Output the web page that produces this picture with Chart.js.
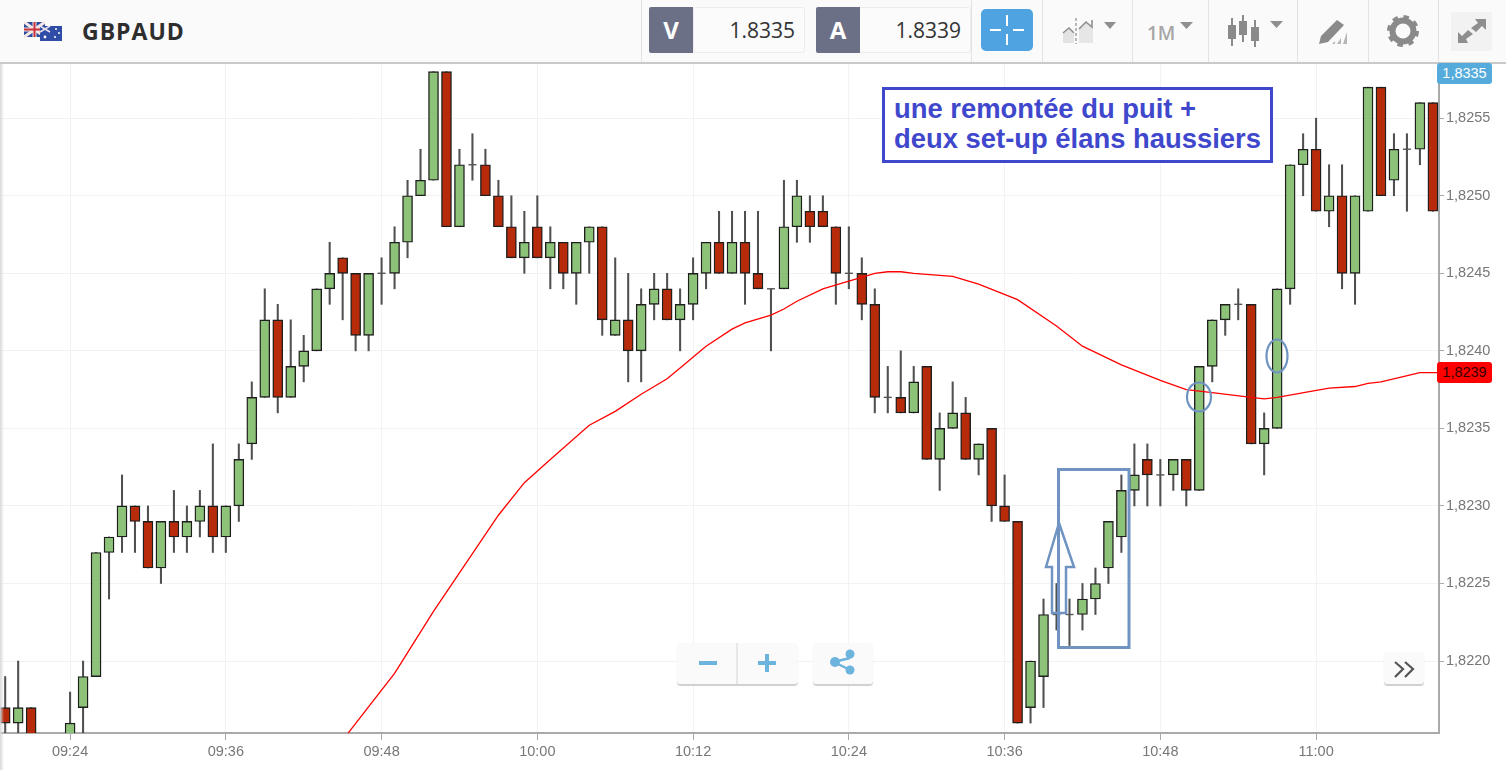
<!DOCTYPE html>
<html>
<head>
<meta charset="utf-8">
<title>GBPAUD</title>
<script src="https://cdn.jsdelivr.net/npm/chart.js@4"></script>
<style>
    html, body { margin: 0; padding: 0; background: #fff; overflow: hidden; }
    #wrap { position: relative; width: 1506px; height: 770px; overflow: hidden; font-family: "Open Sans", sans-serif; }
    #chart { position: absolute; left: 0; top: 0; }
    #header { position: absolute; left: 0; top: 0; width: 1506px; height: 62px; background: #fafafa; border-bottom: 2px solid #c9c9c9; box-sizing: content-box; }
    #leftShade { position: absolute; left: 0; top: 0; width: 4px; height: 770px; background: linear-gradient(to right, #d8d8d8, rgba(255,255,255,0)); }
    .abs { position: absolute; }
    .symbol { left: 82px; top: 15px; font-size: 23px; font-weight: 700; color: #2e2e2e; letter-spacing: 1px; }
    .tile { top: 7px; width: 44px; height: 46px; background: #6b7086; color: #fff; font-size: 24px; font-weight: 700; line-height: 46px; text-align: center; border-radius: 2px 0 0 2px; }
    .quote { top: 7px; width: 112px; height: 46px; box-sizing: border-box; background: #fbfbfb; border: 1px solid #ececec; border-radius: 3px; font-size: 21px; line-height: 44px; text-align: right; padding-right: 9px; color: #333; }
    .divider { top: 0; width: 1px; height: 62px; background: #e3e3e3; }
    .period { left: 1147px; top: 20px; font-size: 19px; font-weight: 600; color: #a6a6a6; }
    .tag { left: 1437px; width: 55px; height: 21px; border-radius: 3px; font: 14.5px "Liberation Sans", Arial, sans-serif; line-height: 21px; text-align: center; }
    .note { left: 882px; top: 87px; width: 391px; height: 76px; box-sizing: border-box; border: 3px solid #3f48cc; background: #fff; color: #3f48cc; font: bold 27.4px/30px "Liberation Sans", Arial, sans-serif; padding: 4px 0 0 9px; white-space: nowrap; }
    .btn { background: rgba(250,250,250,.92); border-radius: 4px; box-shadow: 0 2px 1px #cfcfcf; }
</style>
</head>
<body>
<div id="wrap">
    <canvas id="chart" width="1506" height="770"></canvas>

    <div id="leftShade"></div>
    <div id="header">
        <svg class="abs" style="left:20px;top:18px" width="46" height="26">
            <rect x="4" y="4" width="21" height="15" fill="#2b4a9b"/>
            <path d="M4 4L25 19M25 4L4 19" stroke="#f3e6e6" stroke-width="3"/>
            <path d="M14.5 4V19M4 11.5H25" stroke="#f3e6e6" stroke-width="4"/>
            <path d="M14.5 4V19M4 11.5H25" stroke="#c9313a" stroke-width="2"/>
            <rect x="20" y="8" width="22" height="15" fill="#2f4da6"/>
            <path d="M20 8L30 14M30 8L20 14" stroke="#e9e4ea" stroke-width="1.5"/>
            <circle cx="36" cy="11" r="1" fill="#fff"/><circle cx="39" cy="15" r="1" fill="#fff"/>
            <circle cx="35" cy="19" r="1" fill="#fff"/><circle cx="25" cy="19" r="1.4" fill="#fff"/>
        </svg>
        <div class="abs symbol">GBPAUD</div>

        <div class="abs divider" style="left:641px"></div>
        <div class="abs quote" style="left:693px">1.8335</div>
        <div class="abs tile" style="left:649px">V</div>
        <div class="abs quote" style="left:859px">1.8339</div>
        <div class="abs tile" style="left:816px">A</div>
        <div class="abs divider" style="left:971px"></div>

        <div class="abs" style="left:981px;top:9px;width:52px;height:42px;background:#4fa3e0;border-radius:5px"></div>
        <svg class="abs" style="left:981px;top:9px" width="52" height="42">
            <path d="M26 6V17M26 25V36M9 21H20M32 21H43" stroke="#fff" stroke-width="2"/>
        </svg>

        <div class="abs divider" style="left:1042px"></div>
        <svg class="abs" style="left:1060px;top:16px" width="62" height="32">
            <path d="M3 27V18L9 13L14 18V27Z" fill="#e3e3e3"/>
            <path d="M19 27V14L26 6L33 12V27Z" fill="#e6e6e6"/>
            <path d="M3 17L9 12L14 17M19 13L26 6L32 11V4" fill="none" stroke="#8f8f8f" stroke-width="1.6"/>
            <path d="M16 2V28" stroke="#9a9a9a" stroke-width="1.4" stroke-dasharray="3 2"/>
            <path d="M44 6H56L50 13Z" fill="#8f8f8f"/>
        </svg>
        <div class="abs divider" style="left:1132px"></div>
        <div class="abs period">1M</div>
        <svg class="abs" style="left:1178px;top:20px" width="18" height="12"><path d="M2 2H15L8.5 9Z" fill="#8f8f8f"/></svg>
        <div class="abs divider" style="left:1208px"></div>
        <svg class="abs" style="left:1226px;top:14px" width="60" height="36">
            <path d="M6 4V32M17 1V28M29 6V33" stroke="#8a8a8a" stroke-width="2"/>
            <rect x="2" y="11" width="8" height="14" fill="#8a8a8a"/>
            <rect x="13" y="7" width="8" height="14" fill="#8a8a8a"/>
            <rect x="25" y="13" width="8" height="14" fill="#8a8a8a"/>
            <path d="M44 7H57L50.5 14Z" fill="#8f8f8f"/>
        </svg>
        <div class="abs divider" style="left:1297px"></div>
        <svg class="abs" style="left:1316px;top:17px" width="34" height="30">
            <path d="M5 19L21 3L28 8L12 25L3 27Z" fill="#8a8a8a"/>
            <path d="M16 27L19 24V27ZM21 27L25 21V27ZM27 27L31 15V27Z" fill="#b5b5b5"/>
        </svg>
        <div class="abs divider" style="left:1368px"></div>
        <svg class="abs" style="left:1387px;top:15px" width="32" height="32">
            <circle cx="16" cy="16" r="10.5" fill="none" stroke="#8a8a8a" stroke-width="6"/>
            <circle cx="16" cy="16" r="14" fill="none" stroke="#8a8a8a" stroke-width="4" stroke-dasharray="5.4 5.6"/>
        </svg>
        <div class="abs divider" style="left:1438px"></div>
        <div class="abs" style="left:1451px;top:12px;width:41px;height:39px;background:#f2f2f2"></div>
        <svg class="abs" style="left:1456px;top:16px" width="32" height="30">
            <path d="M19 3H30V14L26 10L20 16L15 12L22 7ZM12 27H2V16L6 20L12 14L17 18L10 23Z" fill="#8e8e8e"/>
        </svg>
    </div>

    <div class="abs tag" style="top:63px;background:#55acdc;color:#fff">1,8335</div>
    <div class="abs tag" style="top:362px;background:#f00;color:#300">1,8239</div>

    <div class="abs note">une remontée du puit +<br>deux set-up élans haussiers</div>

    <svg class="abs" style="left:0;top:0;pointer-events:none" width="1506" height="770">
        <g fill="none" stroke="#7094c2">
            <rect x="1058.5" y="469.5" width="70.5" height="178" stroke-width="3"/>
            <path d="M1059 523L1074 567H1066V613H1052V567H1046Z" stroke-width="2.5"/>
            <ellipse cx="1199" cy="397" rx="12" ry="14.5" stroke-width="2.2"/>
            <ellipse cx="1277" cy="356" rx="10.5" ry="16.5" stroke-width="2.2"/>
        </g>
    </svg>

    <div class="abs btn" style="left:677px;top:643px;width:121px;height:41px"></div>
    <div class="abs btn" style="left:813px;top:643px;width:60px;height:41px"></div>
    <div class="abs btn" style="left:1384px;top:652px;width:40px;height:32px"></div>
    <svg class="abs" style="left:0;top:0;pointer-events:none" width="1506" height="770">
        <path d="M737 643V684" stroke="#d4d4d4"/>
        <path d="M699 663H717M758 663H776M767 654V672" stroke="#6cb4de" stroke-width="4"/>
        <path d="M850 658L834 662L850 670" fill="none" stroke="#6cb4de" stroke-width="2.5"/>
        <circle cx="850" cy="654" r="4.5" fill="#6cb4de"/><circle cx="835" cy="662" r="5" fill="#6cb4de"/><circle cx="850" cy="670" r="4.5" fill="#6cb4de"/>
        <path d="M1395 662L1403 669L1395 677M1405 662L1413 669L1405 677" fill="none" stroke="#555" stroke-width="2.2"/>
    </svg>
</div>

<script>
const priceBase = 1.82;
const firstMinute = 559; // 09:19, first candle on the left edge

const opens = [
    17, 16, 17, null, null, 15, 17, 19, 27, 28, 30, 29, 26, 29, 28, 29, 30, 28, 30, 34,
    37, 42, 37, 39, 40, 44, 46, 45, 41, 45, 45, 47, 50, 51, 58, 48, 52, 52, 50, 48,
    46, 48, 46, 47, 45, 47, 48, 41, 42, 40, 43, 44, 42, 43, 45, 47, 45, 47, 45, 44,
    44, 48, 49, 49, 48, 45, 45, 43, 37, 37, 36, 39, 33, 35, 36, 33, 35, 30, 29, 17,
    19, 23, 23, 23, 24, 26, 28, 31, 33, 32, 32, 33, 31, 39, 42, 43, 43, 34, 35, 44,
    52, 53, 49, 50, 45, 49, 57, 51, 53, 53, 56
];
const highs = [
    19, 20, 17, null, null, 18, 20, 27, 28, 32, 30, 30, 29, 31, 30, 31, 34, 30, 34, 38,
    44, 43, 42, 41, 44, 47, 46, 45, 45, 46, 48, 51, 53, 58, 58, 53, 54, 53, 51, 50,
    49, 50, 48, 47, 47, 48, 48, 46, 45, 44, 45, 45, 44, 46, 47, 49, 49, 49, 49, 44,
    51, 51, 50, 50, 48, 48, 46, 44, 39, 40, 39, 39, 36, 38, 37, 34, 35, 32, 29, 20,
    24, 25, 24, 25, 26, 29, 32, 34, 34, 33, 33, 33, 39, 42, 43, 44, 43, 36, 44, 52,
    54, 55, 52, 52, 50, 57, 57, 54, 54, 56, 56
];
const lows = [
    15, 15, 15, null, null, 14, 15, 19, 24, 27, 27, 26, 25, 27, 27, 28, 27, 27, 29, 33,
    37, 36, 37, 38, 40, 43, 42, 40, 40, 43, 44, 46, 50, 51, 48, 48, 51, 50, 48, 46,
    45, 46, 44, 44, 43, 45, 41, 41, 38, 38, 42, 42, 40, 42, 44, 45, 45, 43, 44, 40,
    44, 47, 47, 48, 43, 44, 42, 36, 36, 36, 36, 33, 31, 35, 33, 32, 29, 29, 16, 16,
    17, 22, 21, 22, 23, 25, 27, 30, 30, 30, 31, 30, 31, 38, 41, 42, 34, 32, 35, 43,
    50, 49, 48, 44, 43, 49, 50, 50, 49, 52, 49
];
const closes = [
    16, 17, 15, null, null, 16, 19, 27, 28, 30, 29, 26, 29, 28, 29, 30, 28, 30, 33, 37,
    42, 37, 39, 40, 44, 45, 45, 41, 45, 45, 47, 50, 51, 58, 48, 52, 52, 50, 48, 46,
    47, 46, 47, 45, 47, 48, 42, 42, 40, 43, 44, 42, 43, 45, 47, 45, 47, 45, 44, 44,
    48, 50, 48, 48, 45, 45, 43, 37, 37, 36, 38, 33, 35, 36, 33, 34, 30, 29, 16, 20,
    23, 23, 23, 24, 25, 29, 31, 32, 32, 32, 33, 31, 39, 42, 43, 43, 34, 35, 44, 52,
    53, 49, 50, 45, 50, 57, 50, 53, 53, 56, 49
];

// moving average, points
const maMinutes = [
    585, 589, 592, 597, 599, 601, 604, 606, 608, 610, 611, 613, 615, 616, 618, 619, 620, 622, 624, 626, 627,
    628, 629, 632, 634, 637, 640, 642, 645, 648, 650, 652, 655, 656, 657, 661, 663, 664, 665, 668, 669.5
];
const maValues = [
    14.9, 19.2, 23.2, 29.4, 31.5, 33.0, 35.2, 36.1, 37.2, 38.2, 38.9, 40.3, 41.4, 41.8, 42.3, 42.7, 43.2, 44.0, 44.5, 45.0, 45.1,
    45.1, 45.0, 44.8, 44.3, 43.3, 41.6, 40.3, 39.1, 38.1, 37.5, 37.3, 37.0, 36.9, 37.0, 37.6, 37.7, 37.9, 38.0, 38.6, 38.6
];

const toPrice = p => priceBase + p / 10000;
const clock = m => String(Math.floor(m / 60)).padStart(2, '0') + ':' + String(m % 60).padStart(2, '0');

const upColor = 'rgb(141,195,120)';
const downColor = 'rgb(184,43,10)';

const wicks = [], bodies = [], bodyColors = [], dojis = [];
opens.forEach((open, i) => {
    if (open === null) return;
    const x = firstMinute + i;
    wicks.push({ x: x, y: [toPrice(lows[i]), toPrice(highs[i])] });
    if (open === closes[i]) {
        dojis.push({ x: x, y: toPrice(open) });
    } else {
        bodies.push({ x: x, y: [toPrice(open), toPrice(closes[i])] });
        bodyColors.push(closes[i] > open ? upColor : downColor);
    }
});

new Chart(document.getElementById('chart'), {
    type: 'bar',
    data: {
        datasets: [
            {
                type: 'line',
                label: 'MA',
                data: maMinutes.map((m, i) => ({ x: m, y: toPrice(maValues[i]) })),
                borderColor: '#ff0000',
                borderWidth: 1.3,
                pointRadius: 0,
                tension: 0
            },
            {
                label: 'bodies',
                data: bodies,
                grouped: false,
                barThickness: 10,
                backgroundColor: bodyColors,
                borderColor: '#1e1e1e',
                borderWidth: 1.4,
                borderSkipped: false
            },
            {
                type: 'scatter',
                label: 'dojis',
                data: dojis,
                pointStyle: 'line',
                pointRadius: 4,
                borderWidth: 1.4,
                borderColor: '#555'
            },
            {
                label: 'wicks',
                data: wicks,
                grouped: false,
                barThickness: 1.4,
                backgroundColor: '#505050',
                borderWidth: 0
            }
        ]
    },
    options: {
        responsive: false,
        animation: false,
        events: [],
        layout: { autoPadding: false, padding: { top: 63 } },
        plugins: { legend: { display: false }, tooltip: { enabled: false } },
        scales: {
            x: {
                type: 'linear',
                offset: false,
                min: 558.6,
                max: 669.47,
                afterFit: scale => { scale.height = 37; },
                grid: { color: '#f2f2f2', tickColor: '#aaa', tickLength: 7, offset: false },
                border: { color: '#aaa', width: 2 },
                ticks: {
                    stepSize: 12,
                    includeBounds: false,
                    maxRotation: 0,
                    autoSkip: false,
                    padding: 3,
                    color: '#777',
                    font: { family: '"Liberation Sans", Arial, sans-serif', size: 14.5 },
                    callback: v => clock(v)
                }
            },
            y: {
                position: 'right',
                min: 1.821536,
                max: 1.825856,
                afterFit: scale => { scale.width = 67; },
                grid: { color: '#f2f2f2', tickColor: '#aaa', tickLength: 5 },
                border: { color: '#aaa', width: 2 },
                ticks: {
                    stepSize: 0.0005,
                    includeBounds: false,
                    autoSkip: false,
                    padding: 2,
                    color: '#777',
                    font: { family: '"Liberation Sans", Arial, sans-serif', size: 14.5 },
                    callback: v => v.toFixed(4).replace('.', ',')
                }
            }
        }
    }
});
</script>
</body>
</html>
